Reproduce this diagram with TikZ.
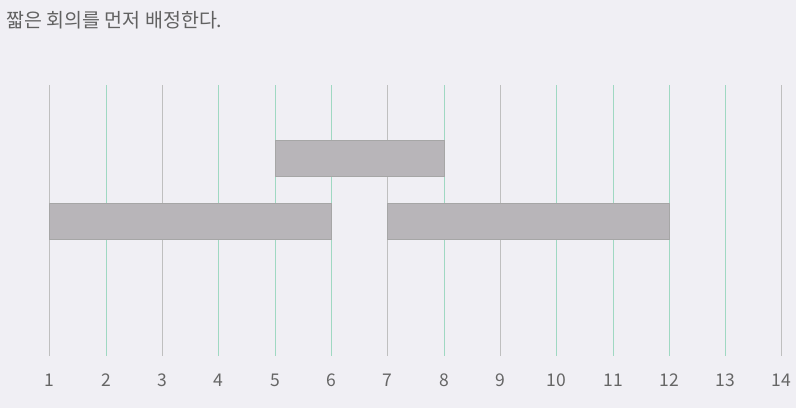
\documentclass[tikz,border=0pt]{standalone}
\usepackage{fontspec}
\setmainfont{Noto Sans CJK KR}
\begin{document}
\begin{tikzpicture}[x=1pt,y=-1pt,
  bar/.style={draw=black!35,fill=barfill,line width=0.7pt,minimum height=36pt,inner sep=0pt,anchor=north west},
  lab/.style={text=black!60,font=\fontsize{17.5}{20}\selectfont,anchor=center}]
\definecolor{barfill}{HTML}{B8B5B9}
\definecolor{bg}{HTML}{F0EFF4}
\definecolor{gn}{HTML}{9FD8C2}
\fill[bg] (0,0) rectangle (796,408);
\useasboundingbox (0,0) rectangle (796,408);
\node[anchor=west,text=black!62,font=\fontsize{19.5}{22}\selectfont] (title) at (3,20) {짧은 회의를 먼저 배정한다.};
\foreach \i/\xx in {1/49.5,2/106,3/162,4/218,5/275,6/331,7/387,8/444,9/500,10/556,11/613,12/669,13/725,14/781}{
  \coordinate (t\i) at (\xx,85);
  \coordinate (b\i) at (\xx,356);
  \node[lab] (n\i) at (\xx,380) {\i};
}
\foreach \i in {1,3,7,9,14}{\draw[draw=black!25,line width=0.9pt] (t\i) -- (b\i);}
\foreach \i in {2,4,5,6,8,10,11,12,13}{\draw[draw=gn,line width=0.9pt] (t\i) -- (b\i);}
\node[bar,minimum width=169pt] (m1) at (275,140) {};
\node[bar,minimum width=282pt] (m2) at (49,203) {};
\node[bar,minimum width=282pt] (m3) at (387,203) {};
\end{tikzpicture}
\end{document}
